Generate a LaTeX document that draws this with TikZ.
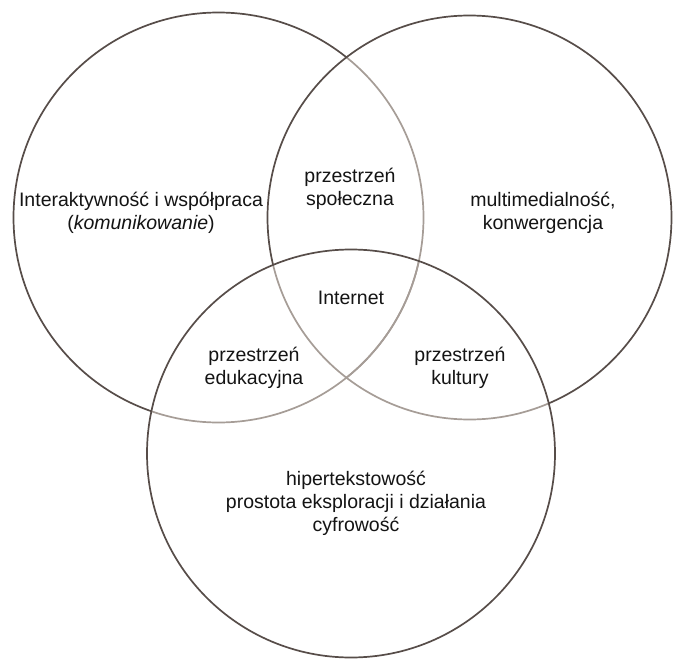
\documentclass[tikz,border=0pt]{standalone}
\usepackage{fontspec}
\setmainfont{Liberation Sans}
\definecolor{ciemny}{HTML}{574D49}
\definecolor{jasny}{HTML}{A69D97}
\tikzset{ krag/.style = { draw = ciemny
                        , line width = 1.7pt
                        },
          blady/.style = { draw = jasny
                         , line width = 1.7pt
                         },
          t/.style = { align = center
                     , inner sep = 0pt
                     , text = black!92
                     , font = \fontsize{19.5}{23}\selectfont
                     }
        }

\begin{document}
\begin{tikzpicture}[x=1pt, y=-1pt]
    \useasboundingbox[fill=white] (0,0) rectangle (674,658);
    \coordinate (L) at (218.5,217.5);
    \coordinate (P) at (469.5,217.5);
    \coordinate (D) at (351,453.5);

    % lewy krag: ciemny na zewnatrz, jasny w srodku
    \begin{scope}[even odd rule]
        \clip (-10,-10) rectangle (684,668) (P) circle[radius=202pt];
        \clip (-10,-10) rectangle (684,668) (D) circle[radius=204pt];
        \path[krag] (L) circle[radius=205pt];
    \end{scope}
    \begin{scope}
        \clip (P) circle[radius=202pt];
        \path[blady] (L) circle[radius=205pt];
    \end{scope}
    \begin{scope}
        \clip (D) circle[radius=204pt];
        \path[blady] (L) circle[radius=205pt];
    \end{scope}

    % prawy krag
    \begin{scope}[even odd rule]
        \clip (-10,-10) rectangle (684,668) (D) circle[radius=204pt];
        \path[krag] (P) circle[radius=202pt];
    \end{scope}
    \begin{scope}
        \clip (D) circle[radius=204pt];
        \path[blady] (P) circle[radius=202pt];
    \end{scope}

    % dolny krag
    \path[krag] (D) circle[radius=204pt];

    \node[t] (kom)  at (141,213) {Interaktywność i współpraca\\(\textit{komunikowanie})};
    \node[t] (spol) at (350,189) {przestrzeń\\społeczna};
    \node[t] (mult) at (543,213) {multimedialność,\\konwergencja};
    \node[t] (net)  at (351,298) {Internet};
    \node[t] (edu)  at (254,368) {przestrzeń\\edukacyjna};
    \node[t] (kult) at (460,368) {przestrzeń\\kultury};
    \node[t] (hip)  at (356,503) {hipertekstowość\\prostota eksploracji i działania\\cyfrowość};
\end{tikzpicture}
\end{document}
